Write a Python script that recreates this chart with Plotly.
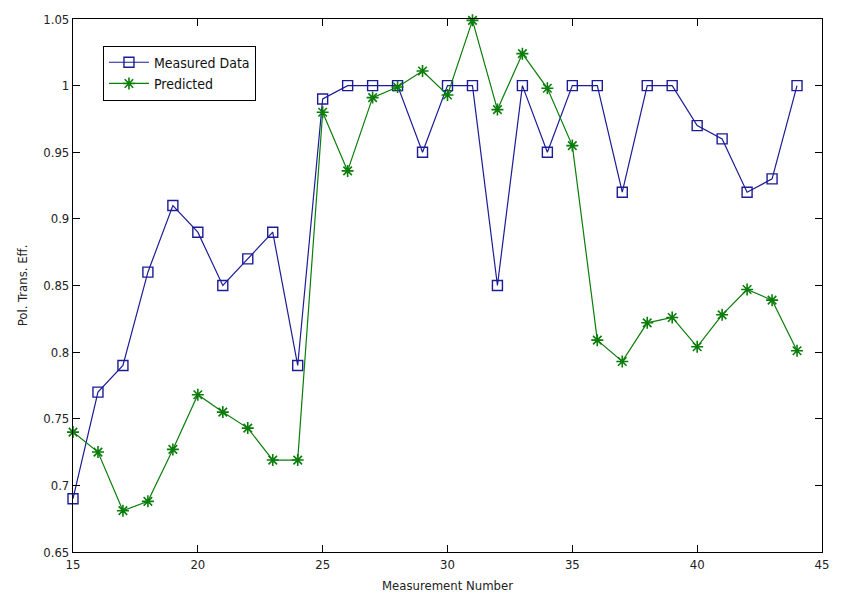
import plotly.graph_objects as go

# Measurement index
measurement = list(range(15, 45))

# Measured polarisation transfer efficiency
measured = [0.69, 0.77, 0.79, 0.86, 0.91, 0.89, 0.85, 0.87, 0.89, 0.79,
            0.99, 1.00, 1.00, 1.00, 0.95, 1.00, 1.00, 0.85, 1.00, 0.95,
            1.00, 1.00, 0.92, 1.00, 1.00, 0.97, 0.96, 0.92, 0.93, 1.00]

# Model prediction
predicted = [0.740, 0.725, 0.681, 0.688, 0.727, 0.768, 0.755, 0.743, 0.719, 0.719,
             0.980, 0.936, 0.991, 0.999, 1.011, 0.993, 1.049, 0.982, 1.024, 0.998,
             0.955, 0.809, 0.793, 0.822, 0.826, 0.804, 0.828, 0.847, 0.839, 0.801]

x_ticks = [15, 20, 25, 30, 35, 40, 45]
y_ticks = [0.65, 0.7, 0.75, 0.8, 0.85, 0.9, 0.95, 1.0, 1.05]
y_tick_text = ["0.65", "0.7", "0.75", "0.8", "0.85", "0.9", "0.95", "1", "1.05"]

FONT = "DejaVu Sans Condensed, Liberation Sans Narrow, Liberation Sans, Arial, sans-serif"
BLUE = "#1c1c96"
GREEN = "#0a7d0a"

fig = go.Figure()
fig.add_trace(go.Scatter(
    x=measurement, y=measured, name="Measured Data",
    mode="lines+markers",
    line=dict(color=BLUE, width=1.2),
    marker=dict(symbol="square-open", size=10, color=BLUE, line=dict(width=1.4, color=BLUE)),
    cliponaxis=False,
))
fig.add_trace(go.Scatter(
    x=measurement, y=predicted, name="Predicted",
    mode="lines+markers",
    line=dict(color=GREEN, width=1.2),
    marker=dict(symbol="asterisk-open", size=10, color=GREEN, line=dict(width=1.6, color=GREEN)),
    cliponaxis=False,
))

axis_common = dict(
    showline=True, linecolor="black", linewidth=1.2, mirror="ticks",
    ticks="inside", ticklen=7, tickwidth=1, tickcolor="black",
    showgrid=False, zeroline=False,
    tickfont=dict(family=FONT, size=13, color="#222222"),
)

fig.update_xaxes(
    range=[15, 45], tickvals=x_ticks,
    title=dict(text="Measurement Number", font=dict(family=FONT, size=13, color="#222222"), standoff=10),
    **axis_common,
)
fig.update_yaxes(
    range=[0.65, 1.05], tickvals=y_ticks, ticktext=y_tick_text,
    title=dict(text="Pol. Trans. Eff.", font=dict(family=FONT, size=13, color="#222222"), standoff=12),
    **axis_common,
)

fig.update_layout(
    width=841, height=603,
    margin=dict(l=73, r=12, t=17, b=47),
    paper_bgcolor="white", plot_bgcolor="white",
    showlegend=True,
    legend=dict(
        x=0.04, y=0.95, xanchor="left", yanchor="top",
        bordercolor="black", borderwidth=1, bgcolor="white",
        font=dict(family=FONT, size=14, color="#111111"),
        tracegroupgap=0, itemwidth=40,
    ),
)

fig.write_html("out.html")
